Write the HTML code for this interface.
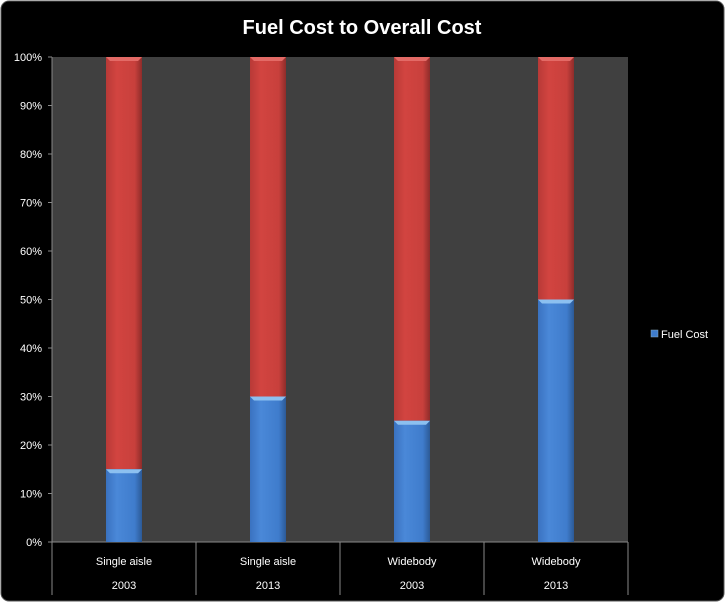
<!DOCTYPE html>
<html><head><meta charset="utf-8"><style>
html,body{margin:0;padding:0;background:#fff}
svg{display:block}
text{font-family:"Liberation Sans",sans-serif;fill:#fff}
</style></head><body>
<svg id="c" width="725" height="602">
<defs>
<linearGradient id="gb" x1="0" x2="1"><stop offset="0" stop-color="#3a72c0"/><stop offset="0.3" stop-color="#4a88d8"/><stop offset="0.8" stop-color="#3f7ccc"/><stop offset="1" stop-color="#2c5a96"/></linearGradient>
<linearGradient id="gr" x1="0" x2="1"><stop offset="0" stop-color="#b83a37"/><stop offset="0.3" stop-color="#d24440"/><stop offset="0.8" stop-color="#c8403c"/><stop offset="1" stop-color="#8e2c2a"/></linearGradient>
</defs>
<rect x="1" y="1" width="723" height="600" rx="8" fill="#000" stroke="#555"/>
<text x="362" y="34" text-anchor="middle" font-size="20" font-weight="bold">Fuel Cost to Overall Cost</text>
<rect x="52" y="57" width="576" height="485" fill="#404040"/>
<g id="g"></g>
<rect x="651" y="330" width="7" height="7" fill="#3f7ccc" stroke="#8ab" stroke-width="0.5"/>
<text x="661" y="338" font-size="11">Fuel Cost</text>
</svg>
<script>
const categories=["Single aisle","Single aisle","Widebody","Widebody"];
const years=["2003","2013","2003","2013"];
const fuelValues=[15,30,25,50];
const otherValues=[85,70,75,50];
const yTicks=[0,10,20,30,40,50,60,70,80,90,100];
const NS="http://www.w3.org/2000/svg",g=document.getElementById('g');
const X0=52,X1=628,Y0=542,Y1=57;
const y=v=>Y0-(Y0-Y1)*v/100;
const bw=(X1-X0)/categories.length;
function el(t,a,txt){const e=document.createElementNS(NS,t);for(const k in a)e.setAttribute(k,a[k]);if(txt!=null)e.textContent=txt;g.appendChild(e);return e;}
el('line',{x1:X0,y1:Y1,x2:X0,y2:Y0,stroke:'#888'});
yTicks.forEach(t=>{
 el('line',{x1:X0-4,y1:y(t),x2:X0,y2:y(t),stroke:'#888'});
 const tx=el('text',{x:X0-10,y:y(t)+4,'text-anchor':'end','font-size':11},t+'%');
 
 
});
el('line',{x1:X0,y1:Y0,x2:X1,y2:Y0,stroke:'#888'});
for(let i=0;i<=categories.length;i++){el('line',{x1:X0+i*bw,y1:Y0,x2:X0+i*bw,y2:595,stroke:'#888'});}
categories.forEach((c,i)=>{
 const cx=X0+bw*(i+0.5),w=36,bx=cx-w/2;
 const f=fuelValues[i],o=otherValues[i];
 const r=el('rect',{x:bx,y:y(f+o),width:w,height:y(f)-y(f+o),fill:'url(#gr)'});
 
 
 el('path',{d:`M${bx} ${y(f+o)} L${bx+w} ${y(f+o)} L${bx+w-4} ${y(f+o)+4} L${bx+4} ${y(f+o)+4}Z`,fill:'#e36a66'});
 const b=el('rect',{x:bx,y:y(f),width:w,height:Y0-y(f),fill:'url(#gb)'});
 
 
 el('path',{d:`M${bx} ${y(f)} L${bx+w} ${y(f)} L${bx+w-4} ${y(f)+4} L${bx+4} ${y(f)+4}Z`,fill:'#8cc0f0'});
 const t1=el('text',{x:cx,y:565,'text-anchor':'middle','font-size':11},c);
 
 
 const t2=el('text',{x:cx,y:589,'text-anchor':'middle','font-size':11},years[i]);
 
 
});
</script>
</body></html>
